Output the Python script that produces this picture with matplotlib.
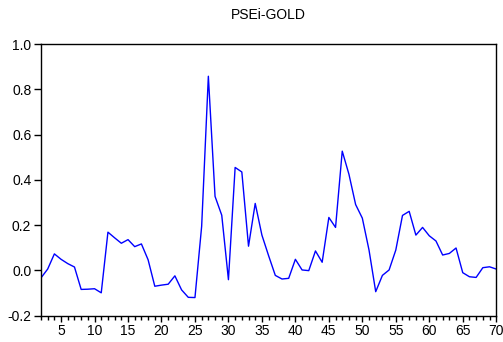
import matplotlib
matplotlib.use("Agg")
import matplotlib.pyplot as plt
import numpy as np
from matplotlib.ticker import MultipleLocator, FormatStrFormatter

plt.rcParams["font.family"] = ["Liberation Sans", "DejaVu Sans"]
plt.rcParams["axes.unicode_minus"] = False

# observation index and series values
obs = np.arange(2, 71)
corr = [
    -0.033, 0.006, 0.073, 0.049, 0.030, 0.015, -0.084, -0.083, -0.081, -0.099,
    0.169, 0.144, 0.120, 0.136, 0.105, 0.117, 0.047, -0.070, -0.065, -0.061,
    -0.024, -0.086, -0.119, -0.120, 0.195, 0.858, 0.327, 0.244, -0.041, 0.455,
    0.435, 0.107, 0.296, 0.156, 0.065, -0.022, -0.038, -0.035, 0.049, 0.002,
    -0.001, 0.086, 0.036, 0.234, 0.190, 0.527, 0.425, 0.291, 0.231, 0.090,
    -0.094, -0.022, 0.002, 0.090, 0.243, 0.261, 0.156, 0.190, 0.153, 0.130,
    0.068, 0.075, 0.099, -0.010, -0.028, -0.031, 0.012, 0.016, 0.006,
]
title = "PSEi-GOLD"

fig = plt.figure(figsize=(5.03, 3.42), dpi=100)
ax = fig.add_axes([0.0815, 0.077, 0.905, 0.794])
ax.plot(obs, corr, color="#0000FF", linewidth=1.0)

ax.set_xlim(2, 70)
ax.set_ylim(-0.2, 1.0)
ax.xaxis.set_major_locator(MultipleLocator(5))
ax.xaxis.set_minor_locator(MultipleLocator(1))
ax.yaxis.set_major_locator(MultipleLocator(0.2))
ax.yaxis.set_major_formatter(FormatStrFormatter("%.1f"))

ax.tick_params(axis="x", which="major", direction="out", length=4, width=1,
               labelsize=10, pad=2)
ax.tick_params(axis="x", which="minor", direction="out", length=3, width=1)
ax.tick_params(axis="y", which="major", direction="out", length=5, width=1,
               labelsize=10, pad=2)
for s in ax.spines.values():
    s.set_linewidth(1.0)
    s.set_color("black")

ax.set_title(title, fontsize=10, pad=18)

fig.savefig("out.png", dpi=100)
